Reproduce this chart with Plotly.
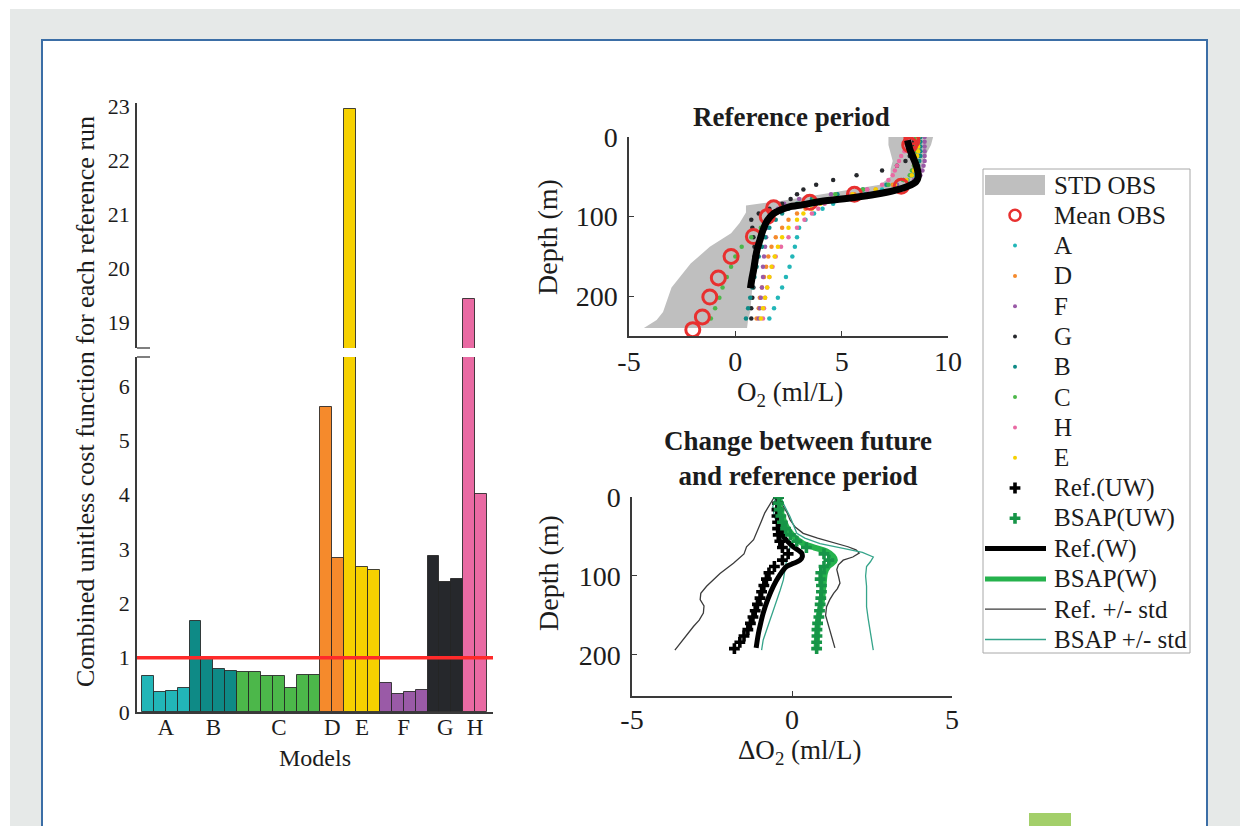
import plotly.graph_objects as go

W, H = 1240, 826
SERIF = "Liberation Serif"
INK = "#1c1c1c"
AXC = "#3a3a3a"


def fx(p):
    return p / W


def fy(p):
    return 1 - p / H


# ---------------- cost function per reference run (bar chart) ----------------
models = ["A", "B", "C", "D", "E", "F", "G", "H"]
cost_A = [0.67, 0.37, 0.38, 0.45]
cost_B = [1.67, 0.97, 0.79, 0.76]
cost_C = [0.73, 0.73, 0.66, 0.66, 0.45, 0.68, 0.68]
cost_D = [5.61, 2.84]
cost_E = [22.95, 2.66, 2.61]
cost_F = [0.53, 0.34, 0.36, 0.40]
cost_G = [2.87, 2.39, 2.44]
cost_H = [19.43, 4.01]
cost_threshold = 1.0

model_colors = {
    "A": "#22b6b8", "B": "#0e8a86", "C": "#4cb74a", "D": "#f58a2c",
    "E": "#f6d100", "F": "#9a5aa7", "G": "#26282c", "H": "#e96aa3",
}

groups = [cost_A, cost_B, cost_C, cost_D, cost_E, cost_F, cost_G, cost_H]
bar_vals, bar_cols, centers = [], [], []
start = 0
for m, g in zip(models, groups):
    bar_vals += g
    bar_cols += [model_colors[m]] * len(g)
    centers.append(start + (len(g) - 1) / 2)
    start += len(g)
bar_x = list(range(len(bar_vals)))

# ---------------- reference-period O2 profiles ----------------
obs_depth = [0, 5, 10, 62, 72, 82, 89, 100, 125, 150, 177, 201, 226, 242]
obs_o2 = [8.3, 8.3, 8.2, 7.8, 5.6, 3.5, 1.8, 1.5, 0.85, -0.2, -0.8, -1.2, -1.55, -2.0]

band_depth = [0, 10, 20, 30, 40, 50, 60, 70, 80, 86, 95, 108, 121, 138, 159, 189, 220, 230, 240]
band_lo = [7.2, 7.2, 7.3, 7.4, 7.3, 7.3, 6.8, 4.5, 2.2, 0.5, 0.5, 0.2, -0.2, -1.2, -2.1, -3.0, -3.4, -3.7, -4.3]
band_hi = [9.3, 9.2, 9.0, 8.9, 8.8, 8.6, 8.0, 6.5, 3.5, 2.2, 1.8, 1.6, 1.4, 1.2, 1.0, 0.8, 0.7, 0.6, 0.55]

model_depth = [0, 6, 12, 18, 24, 30, 36, 42, 48, 54, 60, 66, 72, 78, 84, 90, 96,
               104, 114, 126, 138, 150, 163, 176, 189, 202, 215, 228]
prof_A = [8.6, 8.6, 8.6, 8.6, 8.6, 8.55, 8.5, 8.45, 8.35, 8.1, 7.6, 6.9, 6.1, 5.3, 4.6, 4.1, 3.7,
          3.3, 3.0, 2.9, 2.8, 2.68, 2.55, 2.38, 2.2, 2.0, 1.82, 1.6]
prof_D = [8.5, 8.5, 8.5, 8.5, 8.5, 8.45, 8.4, 8.35, 8.25, 8.0, 7.4, 6.6, 5.6, 4.6, 3.8, 3.3, 2.9,
          2.5, 2.2, 1.9, 1.7, 1.55, 1.45, 1.35, 1.25, 1.15, 1.1, 1.0]
prof_F = [8.9, 8.9, 8.9, 8.9, 8.9, 8.9, 8.85, 8.8, 8.7, 8.4, 7.6, 6.2, 4.5, 3.0, 2.3, 2.0, 1.8,
          1.6, 1.5, 1.45, 1.4, 1.35, 1.3, 1.3, 1.25, 1.2, 1.15, 1.1]
prof_G = [8.4, 8.4, 8.35, 8.3, 8.2, 8.0, 7.6, 6.9, 5.7, 4.6, 3.8, 3.2, 2.9, 2.6, 2.2, 1.6, 1.1,
          0.75, 0.8, 0.85, 0.9, 0.9, 0.9, 0.85, 0.85, 0.8, 0.75, 0.75]
prof_B = [8.7, 8.7, 8.7, 8.7, 8.7, 8.65, 8.6, 8.5, 8.3, 7.9, 7.1, 6.0, 4.8, 3.6, 2.9, 2.5, 2.2,
          1.9, 1.6, 1.4, 1.25, 1.1, 1.0, 0.9, 0.8, 0.7, 0.6, 0.5]
prof_C = [8.5, 8.5, 8.5, 8.5, 8.5, 8.45, 8.4, 8.3, 8.2, 7.9, 7.2, 6.0, 4.7, 3.7, 3.0, 2.3, 1.9,
          1.6, 1.2, 0.75, 0.3, 0.0, -0.2, -0.4, -0.6, -0.75, -0.95, -1.15]
prof_H = [8.3, 8.2, 8.1, 7.95, 7.8, 7.7, 7.6, 7.5, 7.4, 7.2, 6.9, 6.2, 5.4, 4.7, 4.2, 3.9, 3.6,
          3.25, 2.9, 2.5, 2.15, 1.9, 1.75, 1.6, 1.5, 1.4, 1.35, 1.3]
prof_E = [8.6, 8.6, 8.6, 8.6, 8.55, 8.5, 8.45, 8.4, 8.3, 8.05, 7.5, 6.6, 5.5, 4.6, 4.0, 3.6, 3.2,
          2.9, 2.5, 2.2, 2.0, 1.85, 1.7, 1.6, 1.5, 1.4, 1.3, 1.2]
profile_order = [("A", prof_A), ("D", prof_D), ("F", prof_F), ("G", prof_G),
                 ("B", prof_B), ("C", prof_C), ("H", prof_H), ("E", prof_E)]

refw_depth = [4, 15, 25, 35, 42, 50, 56, 62, 67, 72, 76, 81, 85, 88, 92, 96,
              105, 117, 130, 142, 155, 167, 178, 190]
refw_o2 = [8.1, 8.2, 8.35, 8.5, 8.57, 8.6, 8.5, 8.1, 7.5, 6.6, 5.6, 4.0, 3.2, 2.5, 2.1, 1.8,
           1.5, 1.3, 1.15, 1.02, 0.93, 0.86, 0.78, 0.71]

# ---------------- change between future and reference ----------------
uw_depth = [0, 8, 16, 24, 32, 40, 48, 56, 64, 72, 80, 88, 96, 104, 112, 120, 128,
            136, 144, 152, 160, 168, 176, 184, 192]
ref_uw = [-0.42, -0.45, -0.47, -0.47, -0.45, -0.45, -0.43, -0.38, -0.3, -0.12, -0.3, -0.55,
          -0.72, -0.8, -0.88, -0.95, -1.0, -1.08, -1.15, -1.22, -1.3, -1.38, -1.5, -1.63, -1.8]
bsap_uw = [-0.42, -0.42, -0.4, -0.35, -0.3, -0.2, -0.05, 0.15, 0.45, 1.0, 1.15, 1.0,
           0.9, 0.88, 0.92, 0.92, 0.9, 0.88, 0.86, 0.84, 0.8, 0.78, 0.78, 0.77, 0.77]

refw_chg_depth = [0, 10, 20, 29, 40, 50, 57, 63, 71, 76, 80, 84, 88, 100, 113, 130, 147, 160, 173, 191]
refw_chg = [-0.45, -0.42, -0.4, -0.37, -0.32, -0.27, -0.12, 0.04, 0.3, 0.32, 0.25, 0.05,
            -0.17, -0.4, -0.58, -0.76, -0.9, -0.98, -1.05, -1.12]
bsapw_depth = [0, 12, 25, 38, 50, 59, 64, 69, 75, 80, 84, 88, 96, 105, 118, 130, 142, 154, 170, 191]
bsapw_chg = [-0.4, -0.38, -0.3, -0.17, 0.05, 0.35, 0.7, 1.08, 1.28, 1.34, 1.25, 1.13, 1.03,
             1.0, 0.97, 0.94, 0.88, 0.82, 0.79, 0.77]

ref_lo_depth = [0, 10, 20, 30, 40, 54, 63, 72, 84, 97, 113, 122, 130, 138, 147, 156, 164, 181, 194]
ref_lo = [-0.55, -0.7, -0.85, -0.95, -1.05, -1.2, -1.42, -1.5, -1.83, -2.25, -2.67, -2.85,
          -2.87, -2.75, -2.77, -2.9, -3.08, -3.4, -3.66]
ref_hi_depth = [0, 10, 20, 29, 38, 46, 52, 59, 63, 67, 71, 76, 80, 86, 92, 100, 109, 116,
                122, 130, 139, 150, 165, 180, 191]
ref_hi = [-0.35, -0.3, -0.15, -0.06, 0.1, 0.35, 0.8, 1.4, 1.75, 2.0, 2.1, 1.9, 1.6, 1.45,
          1.4, 1.45, 1.5, 1.42, 1.3, 1.18, 1.08, 1.05, 1.15, 1.25, 1.34]
bsap_hi_depth = [0, 10, 25, 35, 46, 52, 59, 65, 70, 76, 82, 88, 100, 113, 126, 139, 154, 168, 181, 194]
bsap_hi = [-0.35, -0.25, -0.06, 0.05, 0.15, 0.4, 0.875, 1.6, 2.2, 2.54, 2.45, 2.33, 2.3,
           2.33, 2.33, 2.33, 2.38, 2.44, 2.5, 2.54]
bsap_lo_depth = [0, 12, 25, 38, 50, 63, 72, 80, 92, 105, 118, 130, 143, 156, 168, 181, 194]
bsap_lo = [-0.5, -0.6, -0.55, -0.4, -0.2, -0.06, -0.1, -0.17, -0.22, -0.27, -0.37, -0.48,
           -0.58, -0.69, -0.8, -0.9, -0.95]

legend_labels = ["STD OBS", "Mean OBS", "A", "D", "F", "G", "B", "C", "H", "E",
                 "Ref.(UW)", "BSAP(UW)", "Ref.(W)", "BSAP(W)", "Ref. +/- std", "BSAP +/- std"]

OBS_RED = "#e8302f"
BAND_GRAY = "#bfbfbf"
REF_STD = "#3b3b3b"
BSAP_STD = "#35a48a"
BSAP_LINE = "#25b24d"
BSAP_MARK = "#179548"

fig = go.Figure()

# bars: lower and upper (broken) segments
for xa, ya in (("x", "y"), ("x2", "y2")):
    fig.add_trace(go.Bar(
        x=bar_x, y=bar_vals, width=1, marker=dict(color=bar_cols,
                                                   line=dict(color="rgba(35,35,35,0.85)", width=1)),
        xaxis=xa, yaxis=ya, showlegend=False, hoverinfo="skip"))

# reference period panel
band_x = band_lo + band_hi[::-1]
band_y = band_depth + band_depth[::-1]
fig.add_trace(go.Scatter(x=band_x, y=band_y, fill="toself", fillcolor=BAND_GRAY,
                         line=dict(width=0), mode="lines", xaxis="x3", yaxis="y3",
                         showlegend=False, hoverinfo="skip"))
for name, prof in profile_order:
    fig.add_trace(go.Scatter(x=prof, y=model_depth, mode="markers",
                             marker=dict(size=4.5, color=model_colors[name]),
                             xaxis="x3", yaxis="y3", showlegend=False, hoverinfo="skip"))
fig.add_trace(go.Scatter(x=obs_o2, y=obs_depth, mode="markers",
                         marker=dict(symbol="circle-open", size=14, color=OBS_RED,
                                     line=dict(width=3, color=OBS_RED)),
                         xaxis="x3", yaxis="y3", showlegend=False, hoverinfo="skip"))
fig.add_trace(go.Scatter(x=refw_o2, y=refw_depth, mode="lines",
                         line=dict(color="#000000", width=7, shape="spline"),
                         xaxis="x3", yaxis="y3", showlegend=False, hoverinfo="skip"))

# change panel
for xs, ys, col in ((ref_lo, ref_lo_depth, REF_STD), (ref_hi, ref_hi_depth, REF_STD),
                    (bsap_lo, bsap_lo_depth, BSAP_STD), (bsap_hi, bsap_hi_depth, BSAP_STD)):
    fig.add_trace(go.Scatter(x=xs, y=ys, mode="lines", line=dict(color=col, width=1.3),
                             xaxis="x4", yaxis="y4", showlegend=False, hoverinfo="skip"))
fig.add_trace(go.Scatter(x=refw_chg, y=refw_chg_depth, mode="lines",
                         line=dict(color="#000000", width=5, shape="spline"),
                         xaxis="x4", yaxis="y4", showlegend=False, hoverinfo="skip"))
fig.add_trace(go.Scatter(x=bsapw_chg, y=bsapw_depth, mode="lines",
                         line=dict(color=BSAP_LINE, width=6, shape="spline"),
                         xaxis="x4", yaxis="y4", showlegend=False, hoverinfo="skip"))
fig.add_trace(go.Scatter(x=ref_uw, y=uw_depth, mode="markers",
                         marker=dict(symbol="cross", size=9, color="#000000"),
                         xaxis="x4", yaxis="y4", showlegend=False, hoverinfo="skip"))
fig.add_trace(go.Scatter(x=bsap_uw, y=uw_depth, mode="markers",
                         marker=dict(symbol="cross", size=9, color=BSAP_MARK),
                         xaxis="x4", yaxis="y4", showlegend=False, hoverinfo="skip"))

# ---------------- legend box (drawn on its own pixel-scaled axis) ----------------
LG_X0, LG_X1, LG_Y0, LG_Y1 = 983, 1190, 169, 653
row_y = [185 + 30.3 * i for i in range(len(legend_labels))]
sym_x = 1015
dot_cols = [model_colors[n] for n, _ in profile_order]
fig.add_trace(go.Scatter(x=[sym_x], y=[row_y[1]], mode="markers",
                         marker=dict(symbol="circle-open", size=11, color=OBS_RED,
                                     line=dict(width=2.5, color=OBS_RED)),
                         xaxis="x5", yaxis="y5", showlegend=False, hoverinfo="skip"))
fig.add_trace(go.Scatter(x=[sym_x] * 8, y=row_y[2:10], mode="markers",
                         marker=dict(size=4, color=dot_cols),
                         xaxis="x5", yaxis="y5", showlegend=False, hoverinfo="skip"))
fig.add_trace(go.Scatter(x=[sym_x, sym_x], y=row_y[10:12], mode="markers",
                         marker=dict(symbol="cross", size=9, color=["#000000", BSAP_MARK]),
                         xaxis="x5", yaxis="y5", showlegend=False, hoverinfo="skip"))

shapes = [
    # page background pieces
    dict(type="rect", xref="paper", yref="paper", x0=fx(42), x1=fx(1207), y0=fy(900), y1=fy(40),
         fillcolor="white", line=dict(color="#3b6ea6", width=2), layer="below"),
    dict(type="rect", xref="paper", yref="paper", x0=0, x1=1, y0=fy(9), y1=1,
         fillcolor="white", line=dict(width=0), layer="below"),
    dict(type="rect", xref="paper", yref="paper", x0=0, x1=fx(10), y0=0, y1=1,
         fillcolor="white", line=dict(width=0), layer="below"),
    dict(type="rect", xref="paper", yref="paper", x0=fx(1029), x1=fx(1071), y0=fy(830), y1=fy(813),
         fillcolor="#a3cf6a", line=dict(width=0), layer="below"),
    # axis-break marks
    dict(type="line", xref="paper", yref="paper", x0=fx(137), x1=fx(150), y0=fy(348), y1=fy(348),
         line=dict(color=AXC, width=1.3)),
    dict(type="line", xref="paper", yref="paper", x0=fx(137), x1=fx(150), y0=fy(357), y1=fy(357),
         line=dict(color=AXC, width=1.3)),
    # threshold line
    dict(type="line", xref="x domain", yref="y", x0=0, x1=1, y0=cost_threshold, y1=cost_threshold,
         line=dict(color="#ff2a2a", width=3.5)),
    # legend frame and symbols
    dict(type="rect", xref="paper", yref="paper", x0=fx(LG_X0), x1=fx(LG_X1), y0=fy(LG_Y1), y1=fy(LG_Y0),
         fillcolor="white", line=dict(color="#a8a8a8", width=1), layer="below"),
    dict(type="rect", xref="paper", yref="paper", x0=fx(985), x1=fx(1045),
         y0=fy(row_y[0] + 10), y1=fy(row_y[0] - 10), fillcolor=BAND_GRAY, line=dict(width=0)),
]
for i, (col, wid) in zip(range(12, 16), (("#000000", 5), (BSAP_LINE, 5), (REF_STD, 1.3), (BSAP_STD, 1.3))):
    shapes.append(dict(type="line", xref="paper", yref="paper", x0=fx(985), x1=fx(1046),
                       y0=fy(row_y[i]), y1=fy(row_y[i]), line=dict(color=col, width=wid)))


def ann(text, x, y, size, angle=0, xanchor="center"):
    return dict(text=text, x=fx(x), y=fy(y), xref="paper", yref="paper", showarrow=False,
                textangle=angle, xanchor=xanchor, yanchor="middle",
                font=dict(family=SERIF, size=size, color=INK))


annotations = [
    ann("Combined unitless cost function for each reference run", 85, 402, 26, angle=-90),
    ann("Models", 315, 758, 24),
    ann("<b>Reference period</b>", 791, 117, 27),
    ann("Depth (m)", 547, 237, 28, angle=-90),
    ann("O<sub>2</sub> (ml/L)", 790, 394, 27),
    ann("<b>Change between future<br>and reference period</b>", 798, 458, 27),
    ann("Depth (m)", 548, 573, 28, angle=-90),
    ann("ΔO<sub>2</sub> (ml/L)", 800, 752, 27),
]
for lab, yy in zip(legend_labels, row_y):
    annotations.append(ann(lab, 1052, yy, 25, xanchor="left"))

tickfont_small = dict(family=SERIF, size=22, color=INK)
tickfont_big = dict(family=SERIF, size=28, color=INK)
common = dict(showgrid=False, zeroline=False, showline=True, linecolor=AXC, linewidth=1.5,
              automargin=False)


def num_labels(vals):
    return [str(v) for v in vals]


x3_ticks = [-5, 0, 5, 10]
x4_ticks = [-5, 0, 5]
depth_ticks = [0, 100, 200]

bar_range = [-0.92, 29.0]
fig.update_layout(
    width=W, height=H, margin=dict(l=0, r=0, t=0, b=0, pad=0, autoexpand=False),
    paper_bgcolor="#e6e9e8", plot_bgcolor="rgba(0,0,0,0)",
    barmode="overlay", bargap=0, showlegend=False,
    shapes=shapes, annotations=annotations,
    xaxis=dict(domain=[fx(137), fx(493)], anchor="y", range=bar_range,
               tickvals=centers, ticktext=models, ticks="", tickfont=dict(family=SERIF, size=23, color=INK),
               ticklabelstandoff=-6, **common),
    yaxis=dict(domain=[fy(712), fy(357)], anchor="x", range=[0, 6.53], tickvals=[0, 1, 2, 3, 4, 5, 6],
               ticks="", tickfont=tickfont_small, ticklabelstandoff=1, **common),
    xaxis2=dict(domain=[fx(137), fx(493)], anchor="y2", range=bar_range, visible=False, automargin=False),
    yaxis2=dict(domain=[fy(348), fy(103)], anchor="x2", range=[18.52, 23.06],
                tickvals=[19, 20, 21, 22, 23], ticks="", tickfont=tickfont_small,
                ticklabelstandoff=1, **common),
    xaxis3=dict(domain=[fx(629), fx(948)], anchor="y3", range=[-5, 10], tickvals=x3_ticks,
                ticktext=num_labels(x3_ticks),
                ticks="inside", ticklen=5, tickcolor=AXC, tickfont=tickfont_big, ticklabelstandoff=0, **common),
    yaxis3=dict(domain=[fy(336), fy(137)], anchor="x3", range=[250, 0], tickvals=depth_ticks,
                ticks="inside", ticklen=5, tickcolor=AXC, tickfont=tickfont_big, ticklabelstandoff=4, **common),
    xaxis4=dict(domain=[fx(632), fx(952)], anchor="y4", range=[-5, 5], tickvals=x4_ticks,
                ticktext=num_labels(x4_ticks),
                ticks="inside", ticklen=5, tickcolor=AXC, tickfont=tickfont_big, ticklabelstandoff=-2, **common),
    yaxis4=dict(domain=[fy(696), fy(497)], anchor="x4", range=[252, 0], tickvals=depth_ticks,
                ticks="inside", ticklen=5, tickcolor=AXC, tickfont=tickfont_big, ticklabelstandoff=4, **common),
    xaxis5=dict(domain=[fx(LG_X0), fx(LG_X1)], anchor="y5", range=[LG_X0, LG_X1], visible=False,
                automargin=False),
    yaxis5=dict(domain=[fy(LG_Y1), fy(LG_Y0)], anchor="x5", range=[LG_Y1, LG_Y0], visible=False,
                automargin=False),
)

fig.write_html("out.html")
